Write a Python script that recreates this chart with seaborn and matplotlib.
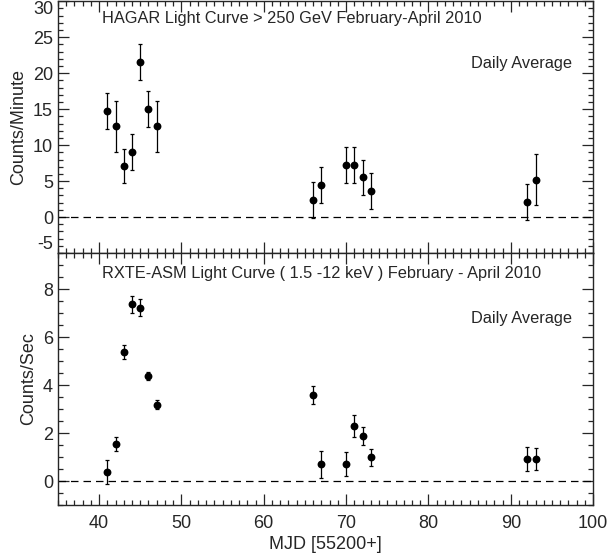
import numpy as np
import pandas as pd
import matplotlib
matplotlib.use('Agg')
import matplotlib.pyplot as plt
from matplotlib.ticker import MultipleLocator
import seaborn as sns

# HAGAR daily averages (counts/minute)
hagar_mjd = [41, 42, 43, 44, 45, 46, 47, 66, 67, 70, 71, 72, 73, 92, 93]
hagar_rate = [14.7, 12.6, 7.1, 9.1, 21.6, 15.0, 12.6, 2.4, 4.5, 7.2, 7.2, 5.5, 3.65, 2.1, 5.2]
hagar_err = [2.5, 3.5, 2.4, 2.5, 2.5, 2.5, 3.5, 2.5, 2.5, 2.5, 2.5, 2.5, 2.5, 2.5, 3.5]

# RXTE-ASM daily averages (counts/sec)
asm_mjd = [41, 42, 43, 44, 45, 46, 47, 66, 67, 70, 71, 72, 73, 92, 93]
asm_rate = [0.38, 1.54, 5.38, 7.36, 7.22, 4.36, 3.18, 3.59, 0.70, 0.70, 2.29, 1.88, 0.99, 0.93, 0.92]
asm_err = [0.5, 0.3, 0.3, 0.35, 0.35, 0.17, 0.2, 0.37, 0.57, 0.5, 0.45, 0.38, 0.35, 0.5, 0.45]

hagar = pd.DataFrame({'mjd': hagar_mjd, 'rate': hagar_rate, 'err': hagar_err})
asm = pd.DataFrame({'mjd': asm_mjd, 'rate': asm_rate, 'err': asm_err})

sns.set_style('ticks')
plt.rcParams['font.family'] = ['Liberation Sans', 'DejaVu Sans']
plt.rcParams['axes.unicode_minus'] = False

fig = plt.figure(figsize=(6.09, 5.59), dpi=100)
ax1 = fig.add_axes([0.095, 0.5474, 0.879, 0.4503])
ax2 = fig.add_axes([0.095, 0.0966, 0.879, 0.4508], sharex=ax1)


def panel(ax, df, ylim, major, minor, ylabel, title, ty, dy):
    ax.errorbar(df['mjd'], df['rate'], yerr=df['err'], fmt='none',
                ecolor='black', elinewidth=0.9, capsize=1.6, capthick=0.9, zorder=2)
    sns.scatterplot(data=df, x='mjd', y='rate', ax=ax, color='black', s=32,
                    edgecolor='black', linewidth=0, zorder=3)
    ax.axhline(0, color='black', lw=0.9, ls=(0, (6, 4)), zorder=1)
    ax.set_xlim(35, 100)
    ax.set_ylim(*ylim)
    ax.xaxis.set_major_locator(MultipleLocator(10))
    ax.xaxis.set_minor_locator(MultipleLocator(1))
    ax.yaxis.set_major_locator(MultipleLocator(major))
    ax.yaxis.set_minor_locator(MultipleLocator(minor))
    ax.tick_params(which='both', direction='in', top=True, right=True,
                   labelsize=13, width=0.9)
    ax.tick_params(axis='y', pad=3.5)
    ax.tick_params(axis='x', pad=7)
    ax.tick_params(which='major', length=8)
    ax.tick_params(which='minor', length=3.6)
    for s in ax.spines.values():
        s.set_linewidth(1.0)
    ax.set_ylabel(ylabel, fontsize=13, labelpad=4)
    ax.set_xlabel('')
    ax.text(0.082, ty, title, transform=ax.transAxes,
            fontsize=11.8, ha='left', va='center')
    ax.text(0.96, dy, 'Daily Average', transform=ax.transAxes,
            fontsize=11.8, ha='right', va='center')


panel(ax1, hagar, (-5, 30), 5, 1, 'Counts/Minute',
      'HAGAR Light Curve > 250 GeV February-April 2010', 0.93, 0.754)
panel(ax2, asm, (-1, 9.5), 2, 0.5, 'Counts/Sec',
      'RXTE-ASM Light Curve ( 1.5 -12 keV ) February - April 2010', 0.919, 0.741)
ax1.tick_params(labelbottom=False)
ax2.set_xlabel('MJD [55200+]', fontsize=13, labelpad=3)

# keep the end labels of the upper panel inside its box
fig.canvas.draw()
for t in ax1.yaxis.get_major_ticks():
    if abs(t.get_loc() - 30) < 1e-6:
        t.label1.set_verticalalignment('top')
    elif abs(t.get_loc() + 5) < 1e-6:
        t.label1.set_verticalalignment('bottom')

fig.savefig('out.png', dpi=100)
